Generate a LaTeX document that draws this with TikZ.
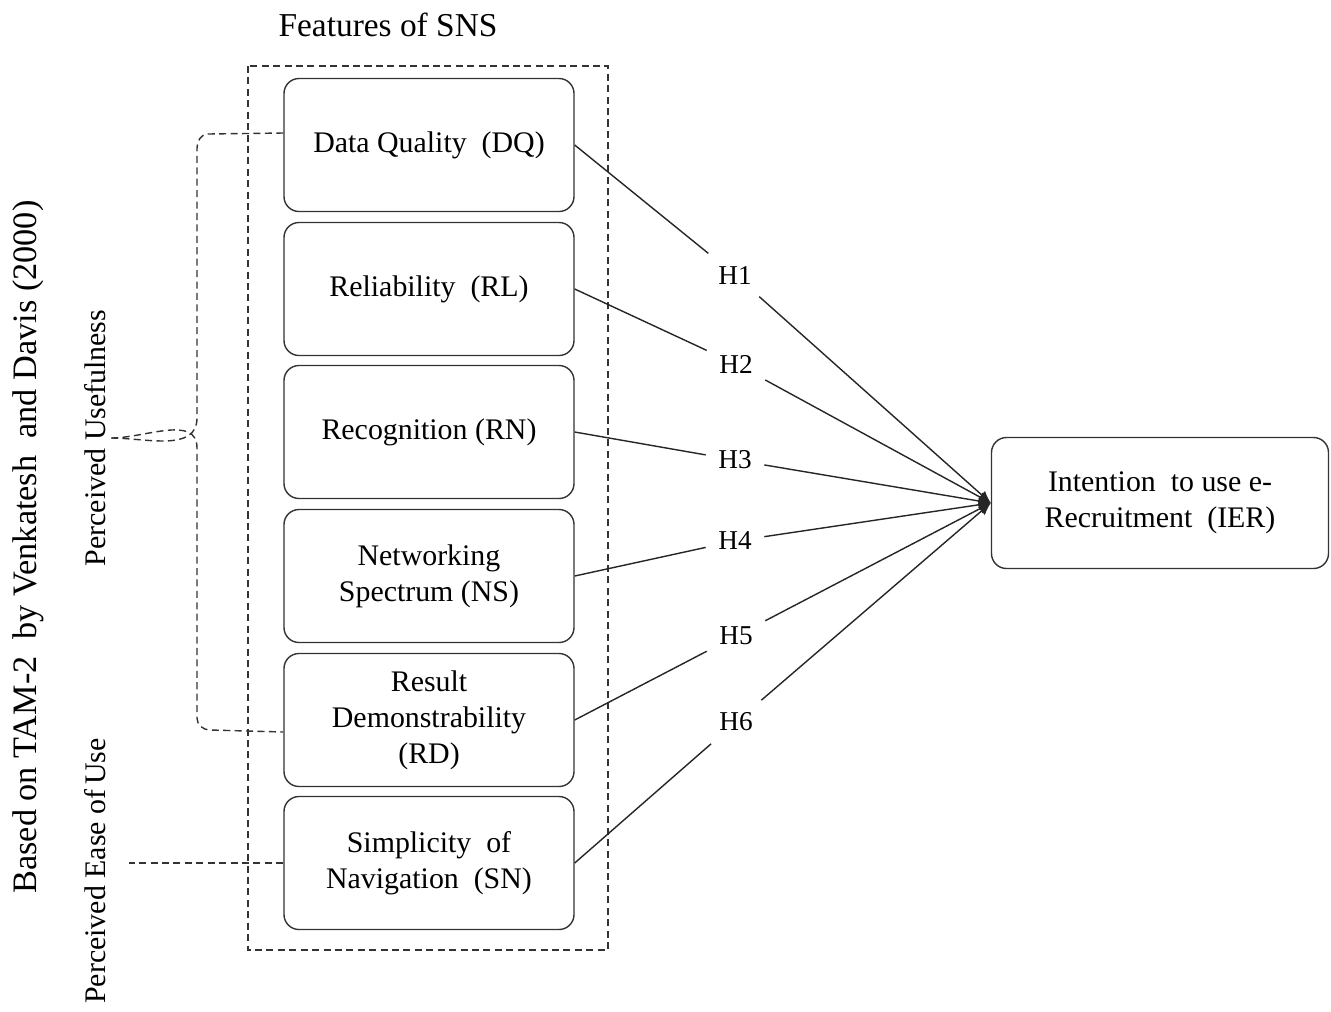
\documentclass[tikz,border=0pt]{standalone}
\usepackage{fontspec}
\setmainfont{Liberation Serif}
\usetikzlibrary{arrows.meta}
\tikzset{
    feature/.style={
        draw=black!80,
        rounded corners=3mm,
        line width=0.8pt,
        minimum width=58mm,
        minimum height=26.6mm,
        align=center,
        font=\fontsize{17}{20.5}\selectfont
    },
    hyp/.style={
        inner sep=7pt,
        font=\fontsize{15.5}{18}\selectfont
    },
    link/.style={
        draw=black!85,
        line width=0.8pt
    },
    guide/.style={
        draw=black!80,
        line width=0.8pt,
        dash pattern=on 4pt off 2.5pt
    }
}

\begin{document}
\begin{tikzpicture}[x=0.2mm, y=-0.2mm]
    \useasboundingbox (0,0) rectangle (1331,1011);

    % Features of SNS
    \node[font=\fontsize{19}{22}\selectfont] (title) at (388,25) {Features of SNS};
    \draw[guide] (248,66) rectangle (608,950);
    \node[feature] (DQ) at (429,145) {Data Quality~ (DQ)};
    \node[feature] (RL) at (429,289) {Reliability~ (RL)};
    \node[feature] (RN) at (429,432) {Recognition (RN)};
    \node[feature] (NS) at (429,576) {Networking\\Spectrum (NS)};
    \node[feature] (RD) at (429,720) {Result\\Demonstrability\\(RD)};
    \node[feature] (SN) at (429,863) {Simplicity~ of\\Navigation~ (SN)};

    % Outcome
    \node[feature, minimum width=67.4mm, minimum height=26.2mm] (IER) at (1160,503)
        {Intention~ to use e-\\Recruitment~ (IER)};

    % Hypotheses
    \node[hyp] (H1) at (735,275) {H1};
    \node[hyp] (H2) at (736,364) {H2};
    \node[hyp] (H3) at (735,460) {H3};
    \node[hyp] (H4) at (735,541) {H4};
    \node[hyp] (H5) at (736,636) {H5};
    \node[hyp] (H6) at (736,722) {H6};

    % Paths
    \draw[link] (DQ.east) -- (H1);
    \draw[link] (RL.east) -- (H2);
    \draw[link] (RN.east) -- (H3);
    \draw[link] (NS.east) -- (H4);
    \draw[link] (RD.east) -- (H5);
    \draw[link] (SN.east) -- (H6);
    \draw[link, -{Latex[length=7pt, width=6pt]}] (H1) -- (IER.west);
    \draw[link, -{Latex[length=7pt, width=6pt]}] (H2) -- (IER.west);
    \draw[link, -{Latex[length=7pt, width=6pt]}] (H3) -- (IER.west);
    \draw[link, -{Latex[length=7pt, width=6pt]}] (H4) -- (IER.west);
    \draw[link, -{Latex[length=7pt, width=6pt]}] (H5) -- (IER.west);
    \draw[link, -{Latex[length=7pt, width=6pt]}] (H6) -- (IER.west);

    % TAM-2 constructs
    \node[rotate=90, font=\fontsize{19.5}{22}\selectfont] (TAM) at (28,547)
        {Based on TAM-2~ by Venkatesh~ and Davis (2000)};
    \node[rotate=90, font=\fontsize{17}{20}\selectfont, inner sep=3pt] (PU) at (95,438) {Perceived Usefulness};
    \node[rotate=90, font=\fontsize{17}{20}\selectfont, inner sep=3pt] (PE) at (95,871) {Perceived Ease of\,Use};

    \draw[guide] ([yshift=2.4mm]DQ.west) -- (208,134) to[out=180, in=90] (197,148)
        -- (197,418) to[out=270, in=0] (PU.south);
    \draw[guide] (PU.south) to[out=0, in=90] (197,448)
        -- (197,718) to[out=270, in=180] (210,730) -- ([yshift=-2.4mm]RD.west);
    \draw[guide] (SN.west) -- ([xshift=3.5mm]PE.south |- SN.west);
\end{tikzpicture}
\end{document}
